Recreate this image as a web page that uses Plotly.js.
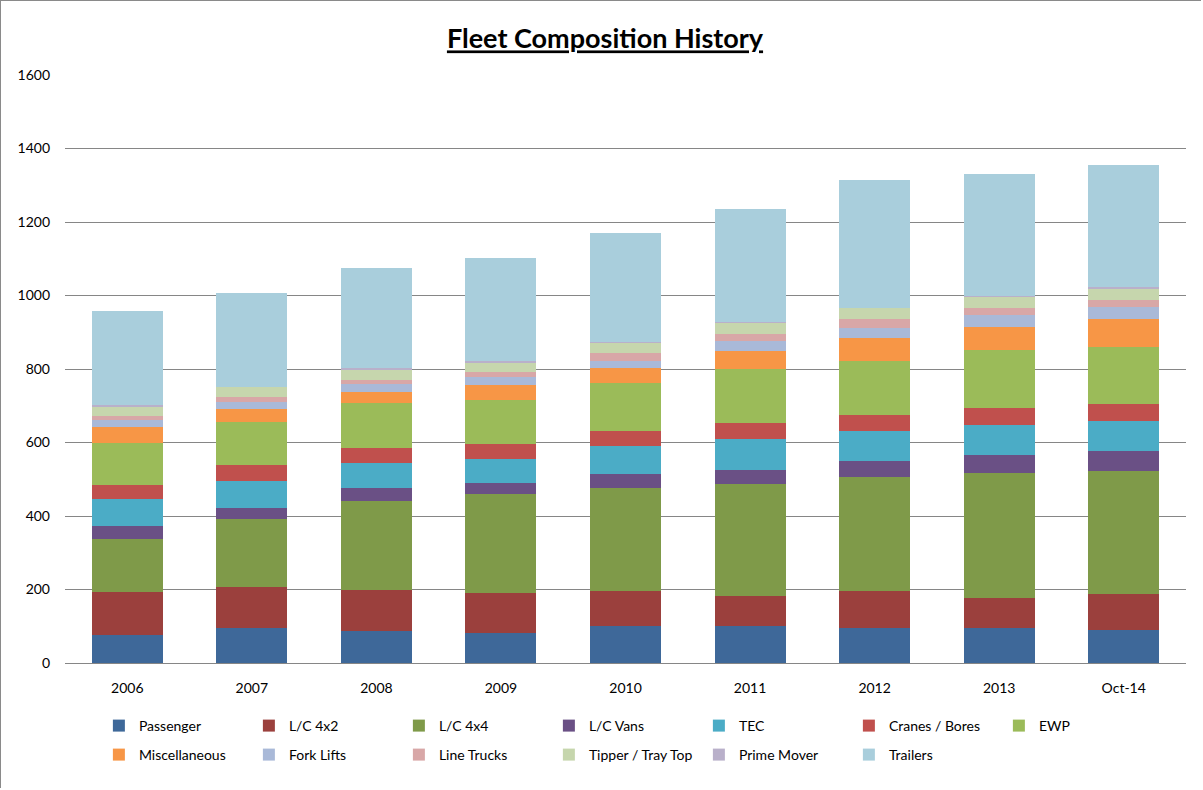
<!DOCTYPE html>
<html>
<head>
<meta charset="utf-8">
<script src="https://cdn.plot.ly/plotly-3.0.1.min.js"></script>
<style>
html,body{margin:0;padding:0;background:#fff;}
#chart{width:1201px;height:788px;border:1px solid #8a8a8a;box-sizing:border-box;}
</style>
</head>
<body>
<div id="chart"></div>
<script>
const categories = ["2006","2007","2008","2009","2010","2011","2012","2013","Oct-14"];
const passenger   = [77, 95, 88, 82, 102, 102, 95, 95, 90];
const lc4x2       = [117, 113, 110, 109, 94, 80, 100, 82, 98];
const lc4x4       = [144, 184, 242, 269, 281, 304, 311, 339, 335];
const lcVans      = [34, 30, 36, 30, 37, 38, 44, 50, 53];
const tec         = [73, 72, 68, 65, 77, 86, 81, 81, 82];
const cranes      = [40, 46, 41, 40, 40, 44, 45, 47, 48];
const ewp         = [114, 116, 122, 120, 131, 145, 145, 157, 155];
const misc        = [44, 34, 30, 42, 40, 49, 64, 64, 74];
const forkLifts   = [17, 21, 21, 20, 20, 27, 26, 33, 33];
const lineTrucks  = [13, 13, 13, 14, 21, 20, 24, 19, 21];
const tipper      = [24, 26, 27, 26, 29, 30, 30, 30, 30];
const primeMover  = [4, 2, 4, 6, 2, 4, 2, 3, 4];
const trailers    = [257, 256, 273, 280, 297, 306, 346, 330, 331];

const seriesNames = ["Passenger","L/C 4x2","L/C 4x4","L/C Vans","TEC","Cranes / Bores","EWP",
  "Miscellaneous","Fork Lifts","Line Trucks","Tipper / Tray Top","Prime Mover","Trailers"];
const seriesValues = [passenger, lc4x2, lc4x4, lcVans, tec, cranes, ewp,
  misc, forkLifts, lineTrucks, tipper, primeMover, trailers];
const seriesColors = ["#3E6899","#9B403D","#7F9A49","#6A5085","#4BACC6","#C0504D","#9BBB59",
  "#F79646","#A9B9D8","#D8A7A7","#C6D6AD","#B9B0CA","#A9CEDC"];

const traces = seriesNames.map((name, i) => ({
  type: 'bar',
  name: name,
  x: categories,
  y: seriesValues[i],
  marker: {color: seriesColors[i], line: {width: 0}},
  legend: i < 7 ? 'legend' : 'legend2'
}));

const legendCommon = {
  orientation: 'h',
  entrywidth: 105,
  entrywidthmode: 'pixels',
  xanchor: 'left',
  yanchor: 'middle',
  yref: 'container',
  xref: 'container',
  font: {family: 'Lato, sans-serif', size: 14, color: '#000'},
  bgcolor: 'rgba(0,0,0,0)',
  itemwidth: 30,
  traceorder: 'normal'
};

const layout = {
  width: 1201,
  height: 788,
  paper_bgcolor: '#fff',
  plot_bgcolor: '#fff',
  margin: {l: 64, r: 16, t: 74, b: 126},
  barmode: 'stack',
  bargap: 0.43,
  showlegend: true,
  title: {
    text: '<b>Fleet Composition History</b>',
    font: {family: 'Lato, sans-serif', size: 27, color: '#000', lineposition: 'under'},
    x: 604/1201, xanchor: 'center', xref: 'container',
    y: 1 - 38/788, yanchor: 'middle', yref: 'container'
  },
  xaxis: {
    type: 'category',
    showgrid: false,
    showline: true,
    linecolor: '#868686',
    linewidth: 1,
    ticks: '',
    ticklabelstandoff: 12,
    tickfont: {family: 'Lato, sans-serif', size: 14, color: '#000'},
    fixedrange: true
  },
  yaxis: {
    range: [0, 1600],
    dtick: 200,
    tick0: 0,
    showgrid: true,
    gridcolor: '#868686',
    gridwidth: 1,
    zeroline: false,
    showline: false,
    ticks: '',
    ticklabelstandoff: 14,
    tickfont: {family: 'Lato, sans-serif', size: 14, color: '#000'},
    fixedrange: true
  },
  legend: Object.assign({}, legendCommon, {x: 0.0815, y: 1 - 725/788}),
  legend2: Object.assign({}, legendCommon, {x: 0.0815, y: 1 - 754/788})
};

Plotly.newPlot('chart', traces, layout, {displayModeBar: false, staticPlot: true});
</script>
</body>
</html>
